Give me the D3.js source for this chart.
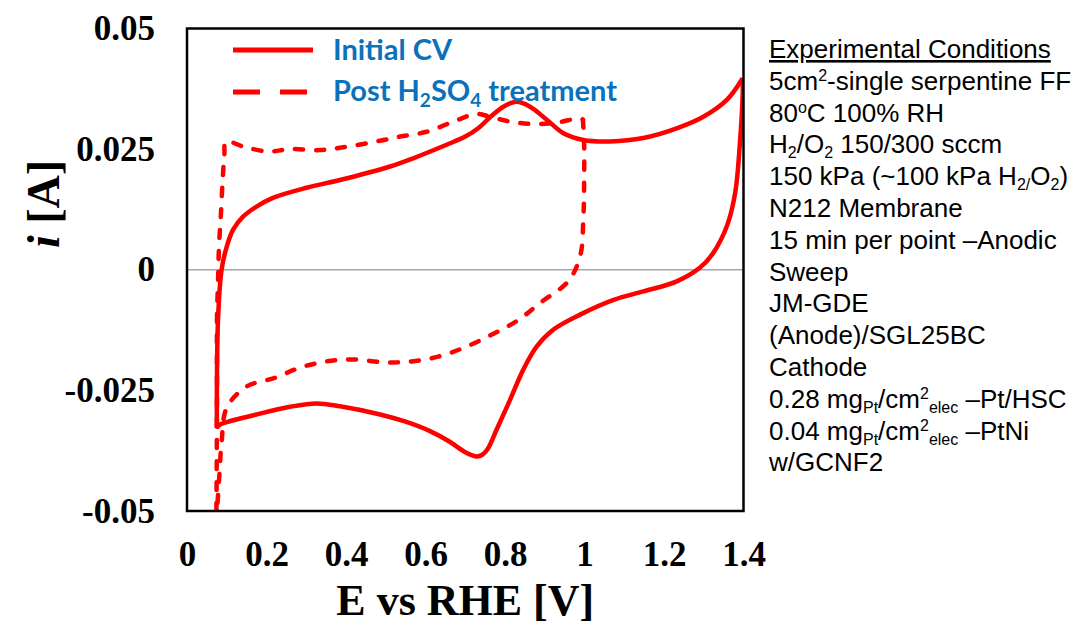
<!DOCTYPE html>
<html>
<head>
<meta charset="utf-8">
<script src="https://cdn.jsdelivr.net/npm/d3@7"></script>
<style>
  html, body { margin: 0; padding: 0; background: #fff; }
  svg { display: block; }
</style>
</head>
<body>
<svg id="chart" width="1081" height="627"></svg>
<script>
// ---------------- DATA ----------------
const xTicks = [0, 0.2, 0.4, 0.6, 0.8, 1, 1.2, 1.4];
const xTickLabels = ["0", "0.2", "0.4", "0.6", "0.8", "1", "1.2", "1.4"];
const yTicks = [0.05, 0.025, 0, -0.025, -0.05];
const yTickLabels = ["0.05", "0.025", "0", "-0.025", "-0.05"];

const seriesNames = ["Initial CV", "Post H2SO4 treatment"];

// Initial CV: anodic sweep [E (V), i (A)]
const initialAnodic = [
  [0.075,-0.0328],[0.078,-0.0104],[0.087,0.0000],[0.100,0.0048],[0.116,0.0083],
  [0.141,0.0110],[0.175,0.0131],[0.216,0.0149],[0.301,0.0170],[0.385,0.0186],
  [0.511,0.0214],[0.569,0.0231],[0.653,0.0259],[0.700,0.0276],[0.735,0.0295],
  [0.765,0.0318],[0.796,0.0338],[0.829,0.0348],[0.863,0.0338],[0.905,0.0311],
  [0.947,0.0283],[0.997,0.0269],[1.064,0.0266],[1.148,0.0273],[1.232,0.0293],
  [1.299,0.0317],[1.358,0.0352],[1.398,0.0397]
];
// Initial CV: cathodic sweep
const initialCathodic = [
  [1.398,0.0397],[1.398,0.0366],[1.391,0.0263],[1.379,0.0159],[1.358,0.0090],
  [1.324,0.0035],[1.290,0.0004],[1.232,-0.0024],[1.148,-0.0045],[1.075,-0.0062],
  [0.989,-0.0093],[0.922,-0.0124],[0.880,-0.0159],[0.846,-0.0207],[0.813,-0.0269],
  [0.779,-0.0331],[0.756,-0.0372],[0.742,-0.0384],[0.729,-0.0387],[0.700,-0.0378],
  [0.660,-0.0356],[0.610,-0.0334],[0.550,-0.0315],[0.486,-0.0300],[0.385,-0.0283],
  [0.326,-0.0277],[0.259,-0.0284],[0.175,-0.0300],[0.083,-0.0321],[0.075,-0.0328]
];
// Post H2SO4 treatment: anodic sweep
const postAnodic = [
  [0.074,-0.0500],[0.0755,-0.0270],[0.0755,-0.0097],[0.078,-0.0027],[0.0805,0.0048],
  [0.0855,0.0118],[0.090,0.0191],[0.094,0.0238],[0.098,0.0266],[0.142,0.0255],
  [0.205,0.0245],[0.259,0.0250],[0.335,0.0248],[0.402,0.0255],[0.477,0.0266],
  [0.536,0.0276],[0.603,0.0286],[0.670,0.0307],[0.729,0.0323],[0.762,0.0317],
  [0.813,0.0307],[0.871,0.0302],[0.930,0.0305],[0.989,0.0314],[0.996,0.0311]
];
// Post H2SO4 treatment: cathodic sweep
const postCathodic = [
  [0.996,0.0311],[0.999,0.0263],[0.999,0.0172],[0.997,0.0104],[0.989,0.0028],
  [0.959,-0.0024],[0.888,-0.0069],[0.834,-0.0104],[0.775,-0.0131],[0.704,-0.0159],
  [0.632,-0.0180],[0.565,-0.0190],[0.498,-0.0192],[0.418,-0.0186],[0.351,-0.0190],
  [0.284,-0.0203],[0.221,-0.0224],[0.150,-0.0242],[0.100,-0.0286],[0.087,-0.0358],
  [0.081,-0.0431],[0.0755,-0.0500]
];

// Experimental conditions text (segments: [text, mode])
const conditionLines = [
  [["Experimental Conditions"]],
  [["5cm"],["2","sup"],["-single serpentine FF"]],
  [["80"],["o","sup"],["C 100% RH"]],
  [["H"],["2","sub"],["/O"],["2","sub"],[" 150/300 sccm"]],
  [["150 kPa (~100 kPa H"],["2/","sub"],["O"],["2","sub"],[")"]],
  [["N212 Membrane"]],
  [["15 min per point \u2013Anodic"]],
  [["Sweep"]],
  [["JM-GDE"]],
  [["(Anode)/SGL25BC"]],
  [["Cathode"]],
  [["0.28 mg"],["Pt","sub"],["/cm"],["2","sup"],["elec","sub"],[" \u2013Pt/HSC"]],
  [["0.04 mg"],["Pt","sub"],["/cm"],["2","sup"],["elec","sub"],[" \u2013PtNi"]],
  [["w/GCNF2"]]
];

// ---------------- LAYOUT ----------------
const svg = d3.select("#chart");
svg.append("rect").attr("width", 1081).attr("height", 627).attr("fill", "#fff");

const plot = { left: 187, right: 743.5, top: 28.5, bottom: 511 };
const x = d3.scaleLinear().domain([0, 1.4]).range([plot.left, plot.right]);
const y = d3.scaleLinear().domain([-0.05, 0.05]).range([plot.bottom, plot.top]);

const serif = "'Liberation Serif', 'Times New Roman', serif";
const sans = "'Liberation Sans', Arial, sans-serif";
const red = "#ff0000";
const blue = "#0a72bb";

svg.append("defs").append("clipPath").attr("id", "clip")
  .append("rect")
  .attr("x", plot.left).attr("y", plot.top)
  .attr("width", plot.right - plot.left).attr("height", plot.bottom - plot.top);

// zero line
svg.append("line")
  .attr("x1", x(0)).attr("x2", x(1.4))
  .attr("y1", y(0)).attr("y2", y(0))
  .attr("stroke", "#a6a6a6").attr("stroke-width", 1.5);

// axes
const xAxis = d3.axisBottom(x).tickValues(xTicks).tickSize(0).tickPadding(30)
  .tickFormat((d, i) => xTickLabels[i]);
const gx = svg.append("g").attr("transform", `translate(0,${plot.bottom})`).call(xAxis);
gx.select(".domain").remove();
gx.selectAll("text").attr("font-family", serif).attr("font-weight", "bold")
  .attr("font-size", 35).attr("fill", "#000");

const yAxis = d3.axisLeft(y).tickValues(yTicks).tickSize(0).tickPadding(32)
  .tickFormat((d, i) => yTickLabels[i]);
const gy = svg.append("g").attr("transform", `translate(${plot.left},0)`).call(yAxis);
gy.select(".domain").remove();
gy.selectAll("text").attr("font-family", serif).attr("font-weight", "bold")
  .attr("font-size", 35).attr("fill", "#000");

// curves
const line = d3.line().x(d => x(d[0])).y(d => y(d[1]))
  .curve(d3.curveCatmullRom.alpha(0.5));
const curves = svg.append("g").attr("clip-path", "url(#clip)");

[postAnodic, postCathodic].forEach(data => {
  curves.append("path").datum(data).attr("d", line)
    .attr("fill", "none").attr("stroke", red).attr("stroke-width", 4.5)
    .attr("stroke-linecap", "round").attr("stroke-dasharray", "8,13");
});
[initialAnodic, initialCathodic].forEach(data => {
  curves.append("path").datum(data).attr("d", line)
    .attr("fill", "none").attr("stroke", red).attr("stroke-width", 4.5)
    .attr("stroke-linejoin", "round");
});

// frame
svg.append("rect")
  .attr("x", plot.left).attr("y", plot.top)
  .attr("width", plot.right - plot.left).attr("height", plot.bottom - plot.top)
  .attr("fill", "none").attr("stroke", "#000").attr("stroke-width", 2.5);

// axis titles
svg.append("text")
  .attr("x", x(0.7)).attr("y", 615)
  .attr("text-anchor", "middle")
  .attr("font-family", serif).attr("font-weight", "bold").attr("font-size", 44)
  .text("E vs RHE [V]");

const yt = svg.append("text")
  .attr("transform", "translate(59,204) rotate(-90)")
  .attr("text-anchor", "middle")
  .attr("font-family", serif).attr("font-weight", "bold").attr("font-size", 46);
yt.append("tspan").attr("font-style", "italic").text("i");
yt.append("tspan").text(" [A]");

// legend
const lg = svg.append("g");
lg.append("line").attr("x1", 233).attr("x2", 313).attr("y1", 50).attr("y2", 50)
  .attr("stroke", red).attr("stroke-width", 5);
lg.append("line").attr("x1", 233).attr("x2", 313).attr("y1", 92).attr("y2", 92)
  .attr("stroke", red).attr("stroke-width", 5).attr("stroke-dasharray", "27,20");
lg.append("text").attr("x", 333).attr("y", 60)
  .attr("font-family", "Lato, 'Open Sans', sans-serif").attr("font-weight", "bold")
  .attr("font-size", 29).attr("fill", blue).text(seriesNames[0]);
const lt2 = lg.append("text").attr("x", 333).attr("y", 101)
  .attr("font-family", "Lato, 'Open Sans', sans-serif").attr("font-weight", "bold")
  .attr("font-size", 29).attr("fill", blue);
lt2.append("tspan").text("Post H");
lt2.append("tspan").attr("font-size", 19).attr("dy", 6).text("2");
lt2.append("tspan").attr("dy", -6).text("SO");
lt2.append("tspan").attr("font-size", 19).attr("dy", 6).text("4");
lt2.append("tspan").attr("dy", -6).text(" treatment");

// conditions text
const tx = 769, ty0 = 58, lh = 31.8;
const offsets = { sup: -9, sub: 5 };
conditionLines.forEach((segs, li) => {
  const t = svg.append("text").attr("x", tx).attr("y", ty0 + li * lh)
    .attr("font-family", sans).attr("font-size", 26).attr("fill", "#000");
  if (li === 0) t.attr("text-decoration", "underline");
  let cur = 0;
  segs.forEach(([s, mode]) => {
    const want = mode ? offsets[mode] : 0;
    const sp = t.append("tspan").attr("dy", want - cur).text(s);
    if (mode) sp.attr("font-size", 16);
    cur = want;
  });
});
</script>
</body>
</html>
